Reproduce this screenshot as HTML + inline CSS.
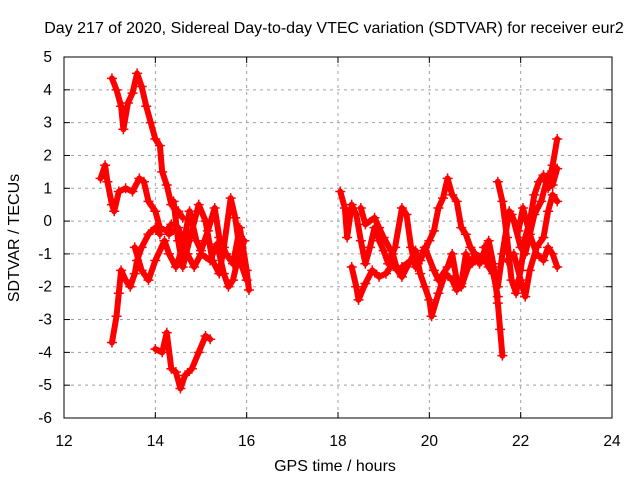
<!DOCTYPE html>
<html><head><meta charset="utf-8"><style>
html,body{margin:0;padding:0;background:#fff;}
svg{display:block;font-family:"Liberation Sans",sans-serif;}
</style></head><body>
<svg id="chart" width="640" height="480" viewBox="0 0 640 480"></svg>
<script>
const xTicks=[12,14,16,18,20,22,24];
const yTicks=[5,4,3,2,1,0,-1,-2,-3,-4,-5,-6];
const trackA=[[13.05,4.35],[13.15,4.0],[13.25,3.5],[13.3,2.8],[13.4,3.6],[13.5,3.9],[13.6,4.5],[13.7,4.1],[13.8,3.5],[13.9,3.0],[14.0,2.5],[14.1,2.3],[14.15,1.5],[14.25,1.1],[14.35,0.5],[14.5,0.3],[14.6,0.1]];
const trackB=[[12.8,1.3],[12.9,1.7],[12.95,1.2],[13.05,0.5],[13.1,0.3],[13.2,0.9],[13.35,1.0],[13.5,0.9],[13.65,1.3],[13.75,1.2],[13.85,0.6],[14.0,0.3],[14.1,-0.2],[14.25,-0.3],[14.35,-0.1]];
const trackC=[[13.05,-3.7],[13.15,-2.9],[13.2,-2.2],[13.25,-1.5],[13.35,-1.8],[13.45,-2.0],[13.55,-1.6],[13.6,-1.2],[13.7,-0.8],[13.85,-0.4],[14.0,-0.2],[14.1,-0.4]];
const trackD=[[14.0,-3.9],[14.15,-4.0],[14.25,-3.4],[14.35,-4.5],[14.45,-4.6],[14.55,-5.1],[14.65,-4.7],[14.8,-4.5],[14.95,-4.0],[15.1,-3.5],[15.2,-3.6]];
const trackE=[[13.55,-0.8],[13.7,-1.5],[13.85,-1.8],[14.0,-1.2],[14.2,-0.6],[14.3,-1.0],[14.45,-1.4],[14.6,-0.8],[14.75,0.3],[14.9,-0.6],[15.0,-0.9],[15.15,-0.3],[15.3,0.4],[15.4,-0.5],[15.55,-1.0],[15.7,-1.3],[15.85,-0.2],[16.0,-1.5],[16.05,-2.1]];
const trackF=[[14.4,0.6],[14.5,-0.6],[14.6,-1.4],[14.8,-0.3],[14.95,0.5],[15.1,0.0],[15.25,-1.2],[15.4,-1.6],[15.5,-0.8],[15.65,0.7],[15.75,0.1],[15.85,-0.9],[15.9,-1.4],[16.0,-1.8]];
const trackG=[[14.3,-0.4],[14.5,-0.2],[14.7,-1.0],[14.85,-1.4],[15.0,-1.0],[15.2,-1.2],[15.35,-0.7],[15.5,-1.6],[15.6,-2.0],[15.7,-1.8],[15.8,-1.2],[15.95,-0.6]];
const trackH=[[18.05,0.9],[18.15,0.4],[18.2,-0.5],[18.3,0.5],[18.4,0.2],[18.5,-0.6],[18.6,-1.3],[18.7,-0.8],[18.8,-0.2],[18.9,-0.6],[19.0,-0.9],[19.1,-1.3],[19.25,-0.8],[19.4,0.4],[19.5,0.2],[19.6,-0.8],[19.7,-1.4],[19.8,-1.2],[19.9,-0.9],[20.0,-0.6],[20.1,-0.3],[20.2,0.4],[20.3,0.7],[20.4,1.3],[20.5,0.8],[20.6,0.6],[20.7,-0.2],[20.8,-0.4],[20.9,-0.8],[21.0,-1.0],[21.1,-1.3],[21.2,-1.1],[21.3,-1.4],[21.4,-1.6],[21.5,-2.3]];
const trackI=[[18.3,-1.4],[18.4,-2.0],[18.45,-2.4],[18.6,-1.9],[18.75,-1.5],[18.9,-1.7],[19.05,-1.6],[19.2,-1.3],[19.4,-1.7],[19.55,-1.3],[19.7,-0.9],[19.8,-1.6],[19.9,-2.0],[20.0,-2.4],[20.05,-2.9],[20.2,-2.2],[20.35,-1.6],[20.5,-1.8],[20.6,-2.1],[20.7,-1.9],[20.8,-1.0],[20.9,-1.3],[21.0,-1.0],[21.15,-1.1],[21.3,-0.6],[21.4,-1.3],[21.5,-2.5],[21.55,-3.3],[21.6,-4.1]];
const trackJ=[[18.5,0.4],[18.6,-0.1],[18.8,0.1],[18.9,-0.2],[19.0,-0.5],[19.2,-1.0],[19.3,-1.5],[19.4,-1.4],[19.6,-1.2],[19.75,-1.3],[19.9,-0.8],[20.1,-1.5],[20.2,-1.8],[20.4,-1.4],[20.5,-1.0],[20.6,-1.8],[20.7,-2.0],[20.85,-1.4],[21.0,-1.2]];
const trackK=[[21.5,1.2],[21.6,0.6],[21.7,-0.5],[21.8,-1.8],[21.9,-2.2],[22.0,-1.5],[22.1,-0.5],[22.2,0.0],[22.3,0.8],[22.4,1.2],[22.5,1.4],[22.6,1.0],[22.7,1.7],[22.8,2.5]];
const trackL=[[21.7,-1.2],[21.85,-1.0],[22.0,-1.8],[22.1,-2.3],[22.2,-1.5],[22.35,-0.8],[22.5,-0.5],[22.6,0.3],[22.7,0.8],[22.8,0.6]];
const trackM=[[21.8,0.2],[21.95,-0.3],[22.05,0.4],[22.2,-0.4],[22.35,-1.0],[22.5,-1.2],[22.6,-0.8],[22.7,-1.0],[22.8,-1.4]];
const trackN=[[21.2,-0.8],[21.4,-1.4],[21.5,-2.0],[21.6,-1.0],[21.75,0.3],[21.85,0.0],[22.0,-0.8],[22.1,-1.0],[22.3,0.2],[22.45,0.6],[22.6,1.4],[22.7,1.1],[22.8,1.6]];
const tracks=[trackA,trackB,trackC,trackD,trackE,trackF,trackG,trackH,trackI,trackJ,trackK,trackL,trackM,trackN];

const L=64,R=612,T=57,B=418;
const xs=v=>L+(v-12)/(24-12)*(R-L);
const ys=v=>T+(5-v)/(5-(-6))*(B-T);
const svg=document.getElementById('chart');
const NS='http://www.w3.org/2000/svg';
function mk(tag,attrs,parent){const e=document.createElementNS(NS,tag);for(const k in attrs)e.setAttribute(k,attrs[k]);(parent||svg).appendChild(e);return e;}

const grid=mk('g',{});


xTicks.forEach(t=>{
  if(t>12&&t<24) mk('line',{x1:xs(t),x2:xs(t),y1:T,y2:B,stroke:'#a0a0a0','stroke-dasharray':'3,4'},grid);
  const tx=mk('text',{x:xs(t),y:B+28,'text-anchor':'middle','font-size':15.5,fill:'#000'});
  tx.textContent=t;
  
  
  mk('line',{x1:xs(t),x2:xs(t),y1:B,y2:B-6,stroke:'#000'});
  mk('line',{x1:xs(t),x2:xs(t),y1:T,y2:T+6,stroke:'#000'});
});
yTicks.forEach(t=>{
  if(t<5&&t>-6) mk('line',{x1:L,x2:R,y1:ys(t),y2:ys(t),stroke:'#a0a0a0','stroke-dasharray':'3,4'},grid);
  const tx=mk('text',{x:L-12,y:ys(t)+5,'text-anchor':'end','font-size':15.5,fill:'#000'});
  tx.textContent=t;
  
  
  mk('line',{x1:L,x2:L+6,y1:ys(t),y2:ys(t),stroke:'#000'});
  mk('line',{x1:R,x2:R-6,y1:ys(t),y2:ys(t),stroke:'#000'});
});

const series=mk('g',{});


tracks.forEach(tr=>{
  const pl=mk('polyline',{points:tr.map(p=>xs(p[0])+','+ys(p[1])).join(' '),fill:'none',stroke:'#ff0000','stroke-width':6,'stroke-linejoin':'round','stroke-linecap':'round'},series);
  
  
  tr.forEach(p=>{
    const x=xs(p[0]),y=ys(p[1]);
    const m=mk('path',{d:`M${x-5},${y}H${x+5}M${x},${y-5}V${y+5}`,stroke:'#ff0000','stroke-width':1.5},series);
    
    
  });
});

const frame=mk('rect',{x:L,y:T,width:R-L,height:B-T,fill:'none',stroke:'#000'});



const title=mk('text',{x:334,y:33,'text-anchor':'middle','font-size':16,fill:'#000'});
title.textContent='Day 217 of 2020, Sidereal Day-to-day VTEC variation (SDTVAR) for receiver eur2';


const xl=mk('text',{x:335,y:471,'text-anchor':'middle','font-size':16,fill:'#000'});
xl.textContent='GPS time / hours';


const yl=mk('text',{x:0,y:0,'text-anchor':'middle','font-size':16,fill:'#000',transform:'translate(19,238) rotate(-90)'});
yl.textContent='SDTVAR / TECUs';


</script>
</body></html>
